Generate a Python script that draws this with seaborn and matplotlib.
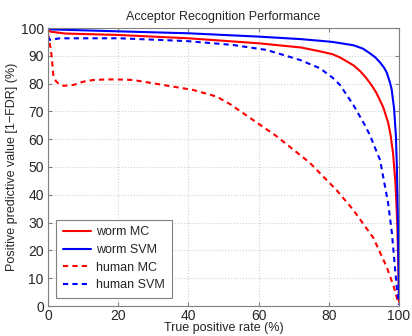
import numpy as np
import pandas as pd
import matplotlib
matplotlib.use("Agg")
import matplotlib.pyplot as plt
import seaborn as sns

# ---- data ----
worm_mc_x = [0, 0.6, 5, 20, 40, 60, 72, 77.5, 81, 83.2, 87, 89, 90.8, 92.2, 93.6, 95.5, 96.9,
             97.6, 98.3, 99.0, 99.5, 99.8, 100]
worm_mc_y = [100, 98.7, 98, 97.5, 96.3, 94.5, 93, 91.6, 90.6, 89.4, 86.6, 84.4, 81.8, 79.4, 76.6, 71.5, 66,
             61.5, 55, 44, 30, 15, 1.5]

worm_svm_x = [0, 1, 20, 40, 60, 72, 77.5, 81, 87, 89.7, 91.7, 93.2, 94.6, 95.7, 96.5, 97.4, 97.9,
              98.6, 99.1, 99.4, 99.7, 99.9, 100]
worm_svm_y = [100, 99.5, 98.8, 98.1, 96.9, 96, 95.4, 95.0, 93.8, 92.6, 90.9, 89.5, 87.6, 85.8, 84.0, 80.5, 78.0,
              71.0, 61.5, 50, 30, 12, 4]

human_mc_x = [0, 0.3, 0.7, 1.05, 1.5, 2.2, 2.9, 4.4, 7.2, 10.1, 12.9, 16.7, 19.6, 24.3, 30, 35.7, 41.4, 48.1,
              52, 56.6, 65.2, 74.6, 82.2, 87, 92.7, 96.5, 98.5, 99.5, 100]
human_mc_y = [98, 96, 93, 89.8, 83.1, 81, 80.1, 79.2, 79.5, 80.7, 81.3, 81.5, 81.5, 81.3, 80.1, 78.9, 77.7, 75.3,
              72.5, 68.5, 61, 51.5, 41.7, 34.5, 24.5, 14, 7, 2.5, 0.5]

human_svm_x = [0, 0.5, 3.4, 20.5, 39.5, 52.7, 62.3, 71.8, 77.5, 81.2, 83.2, 87, 90.3, 91.7, 94.6, 96.9, 98,
               98.9, 99.5, 100]
human_svm_y = [97, 95.7, 96.3, 96.3, 95.3, 93.9, 92.1, 88.5, 85.5, 82.0, 79.5, 72.3, 65, 61.5, 52.5, 37, 26,
               13, 5, 0.5]

series_names = ["worm MC", "worm SVM", "human MC", "human SVM"]
x_ticks = [0, 20, 40, 60, 80, 100]
y_ticks = [0, 10, 20, 30, 40, 50, 60, 70, 80, 90, 100]

sns.set_style("whitegrid")
plt.rcParams['font.family'] = ['Liberation Sans', 'DejaVu Sans']

fig = plt.figure(figsize=(4.12, 3.36), dpi=100)
ax = fig.add_axes([48/412, 30/336, 351/412, 278/336])

data = [(worm_mc_x, worm_mc_y, "#ff0000", "-"),
        (worm_svm_x, worm_svm_y, "#0000ff", "-"),
        (human_mc_x, human_mc_y, "#ff0000", (0, (2.5, 2))),
        (human_svm_x, human_svm_y, "#0000ff", (0, (2.5, 2)))]

for name, (xs, ys, col, ls) in zip(series_names, data):
    df = pd.DataFrame({"x": xs, "y": ys})
    sns.lineplot(data=df, x="x", y="y", ax=ax, color=col, sort=False,
                 linewidth=1.5, label=name, linestyle=ls, estimator=None)

ax.set_xlim(0, 100)
ax.set_ylim(0, 100)
ax.set_xticks(x_ticks)
ax.set_yticks(y_ticks)
ax.grid(True, linestyle=':', color='#d0d0d0', linewidth=0.8)
for s in ax.spines.values():
    s.set_color('#808080')
    s.set_linewidth(0.8)
    s.set_visible(True)
ax.tick_params(direction='in', length=3, color='#808080', labelsize=10,
               top=True, right=True, bottom=True, left=True, pad=3)
ax.tick_params(axis='x', pad=2)

ax.set_title("Acceptor Recognition Performance", fontsize=9, pad=6)
ax.set_xlabel("True positive rate (%)", fontsize=9, labelpad=-0.5)
ax.set_ylabel("Positive predictive value [1\u2212FDR] (%)", fontsize=9, labelpad=2)

leg = ax.legend(loc='lower left', bbox_to_anchor=(0.022, 0.028), fontsize=9,
                frameon=True, fancybox=False, handlelength=2.3, handletextpad=0.4,
                borderpad=0.55, labelspacing=0.45, borderaxespad=0)
leg.get_frame().set_edgecolor('#808080')
leg.get_frame().set_linewidth(0.8)
leg.get_frame().set_alpha(1)

fig.savefig("out.png", dpi=100)
